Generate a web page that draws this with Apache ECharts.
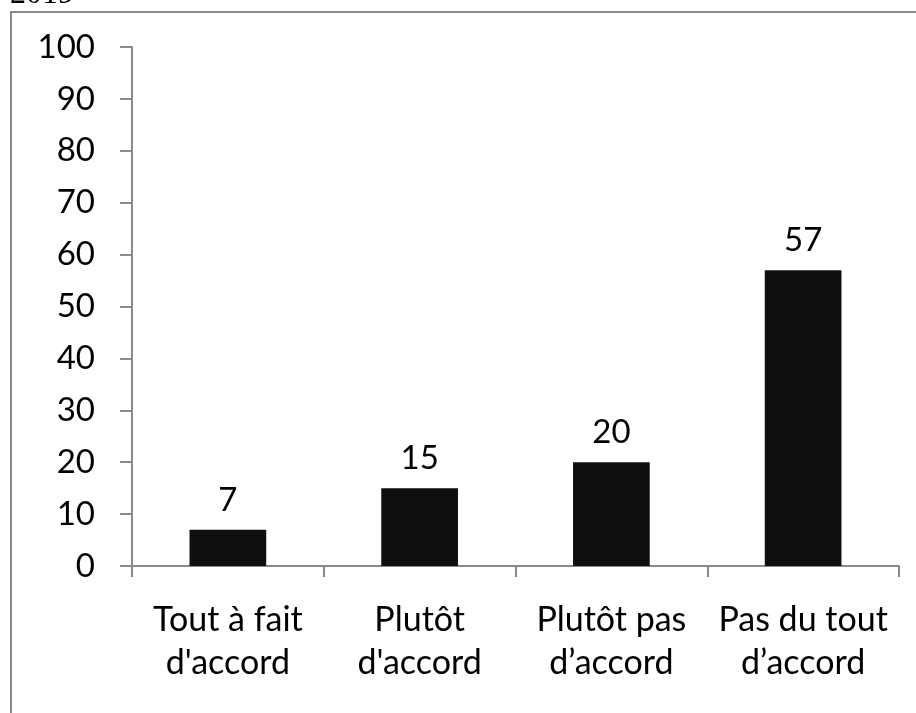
<!DOCTYPE html>
<html>
<head>
<meta charset="utf-8">
<script src="https://cdn.jsdelivr.net/npm/echarts@6/dist/echarts.min.js"></script>
<style>
  html, body { margin: 0; padding: 0; background: #fff; }
  #chart { width: 916px; height: 713px; }
</style>
</head>
<body>
<div id="chart"></div>
<script>
// Survey answers and their shares (%)
const categories = ["Tout à fait\nd'accord", "Plutôt\nd'accord", "Plutôt pas\nd’accord", "Pas du tout\nd’accord"];
const values = [7, 15, 20, 57];
const yTicks = { min: 0, max: 100, interval: 10 };
const headerText = "2019";

const FONT = 'Lato';
const chart = echarts.init(document.getElementById('chart'), null, { renderer: 'canvas' });

chart.setOption({
  backgroundColor: '#ffffff',
  animation: false,
  grid: { left: 132, right: 17, top: 47, bottom: 147, containLabel: false },
  graphic: [
    {
      type: 'rect',
      shape: { x: 11, y: 12, width: 1000, height: 1000 },
      style: { fill: 'none', stroke: '#8a8a8a', lineWidth: 2 },
      silent: true
    },
    {
      // header line, mostly above the top edge of the page
      type: 'text',
      x: 10,
      y: 11,
      style: {
        text: headerText, fontFamily: 'Liberation Serif', fontSize: 32, fill: '#000',
        verticalAlign: 'bottom'
      },
      silent: true
    }
  ],
  xAxis: {
    type: 'category',
    data: categories,
    axisLine: { lineStyle: { color: '#8a8a8a', width: 2 } },
    axisTick: { show: true, alignWithLabel: false, length: 11, lineStyle: { color: '#8a8a8a', width: 2 } },
    axisLabel: {
      color: '#000', fontFamily: FONT, fontSize: 34, lineHeight: 43,
      margin: 33, interval: 0
    },
    splitLine: { show: false }
  },
  yAxis: {
    type: 'value',
    min: yTicks.min, max: yTicks.max, interval: yTicks.interval,
    axisLine: { show: true, lineStyle: { color: '#8a8a8a', width: 2 } },
    axisTick: { show: true, length: 12, lineStyle: { color: '#8a8a8a', width: 2 } },
    axisLabel: { color: '#000', fontFamily: FONT, fontSize: 33, margin: 37 },
    splitLine: { show: false }
  },
  series: [{
    type: 'bar',
    data: values,
    barWidth: '40%',
    itemStyle: { color: '#0f0f0f' },
    label: {
      show: true, position: 'top', distance: 13,
      color: '#000', fontFamily: FONT, fontSize: 33
    }
  }]
});
</script>
</body>
</html>
